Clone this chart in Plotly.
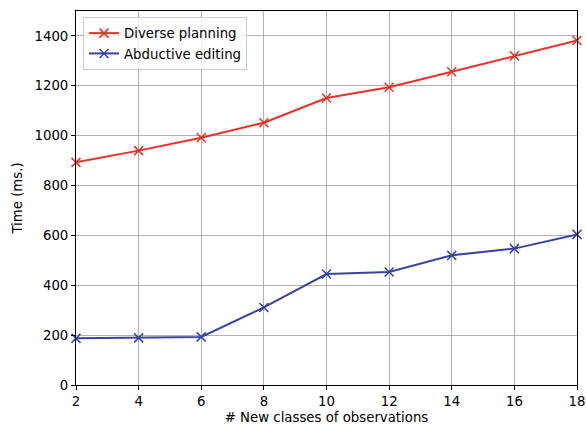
import plotly.graph_objects as go

classes = [2, 4, 6, 8, 10, 12, 14, 16, 18]
diverse_planning = [893, 940, 992, 1052, 1151, 1194, 1256, 1320, 1382]
abductive_editing = [187, 189, 193, 311, 445, 453, 520, 547, 604]
y_ticks = [0, 200, 400, 600, 800, 1000, 1200, 1400]
x_ticks = [2, 4, 6, 8, 10, 12, 14, 16, 18]

RED = "#e5332a"
BLUE = "#3a43a2"
FS = 13.3

fig = go.Figure()
for name, vals, col in [("Diverse planning", diverse_planning, RED),
                        ("Abductive editing", abductive_editing, BLUE)]:
    fig.add_trace(go.Scatter(
        x=classes, y=vals, name=name, mode="lines+markers",
        line=dict(color=col, width=2),
        marker=dict(symbol="x-thin", size=9, line=dict(width=1.5, color=col), color=col),
        cliponaxis=False,
    ))

axis_common = dict(
    showline=True, linecolor="black", linewidth=1, mirror=True,
    showgrid=True, gridcolor="#b0b0b0", gridwidth=1,
    ticks="outside", ticklen=4, tickcolor="black",
    tickfont=dict(family="DejaVu Sans", size=FS, color="black"),
    zeroline=False, automargin=False, ticklabeloverflow="allow",
)

fig.update_layout(
    width=586, height=425,
    margin=dict(l=76, r=9, t=11, b=40),
    paper_bgcolor="white", plot_bgcolor="white",
    font=dict(family="DejaVu Sans", size=FS, color="black"),
    xaxis=dict(range=[2, 18], tickvals=x_ticks,
               title=dict(text="# New classes of observations", standoff=4,
                          font=dict(size=FS)), **axis_common),
    yaxis=dict(range=[0, 1500], tickvals=y_ticks,
               title=dict(text="Time (ms.)", standoff=8, font=dict(size=FS)),
               **axis_common),
    legend=dict(x=0.014, y=0.984, xanchor="left", yanchor="top",
                bgcolor="rgba(255,255,255,0.8)", bordercolor="#cccccc",
                borderwidth=1, font=dict(size=FS), tracegroupgap=0),
    showlegend=True,
)

fig.write_html(
    "out.html",
    config={"displayModeBar": False},
    post_script="document.body.style.margin='0';document.body.style.overflow='hidden';",
)
